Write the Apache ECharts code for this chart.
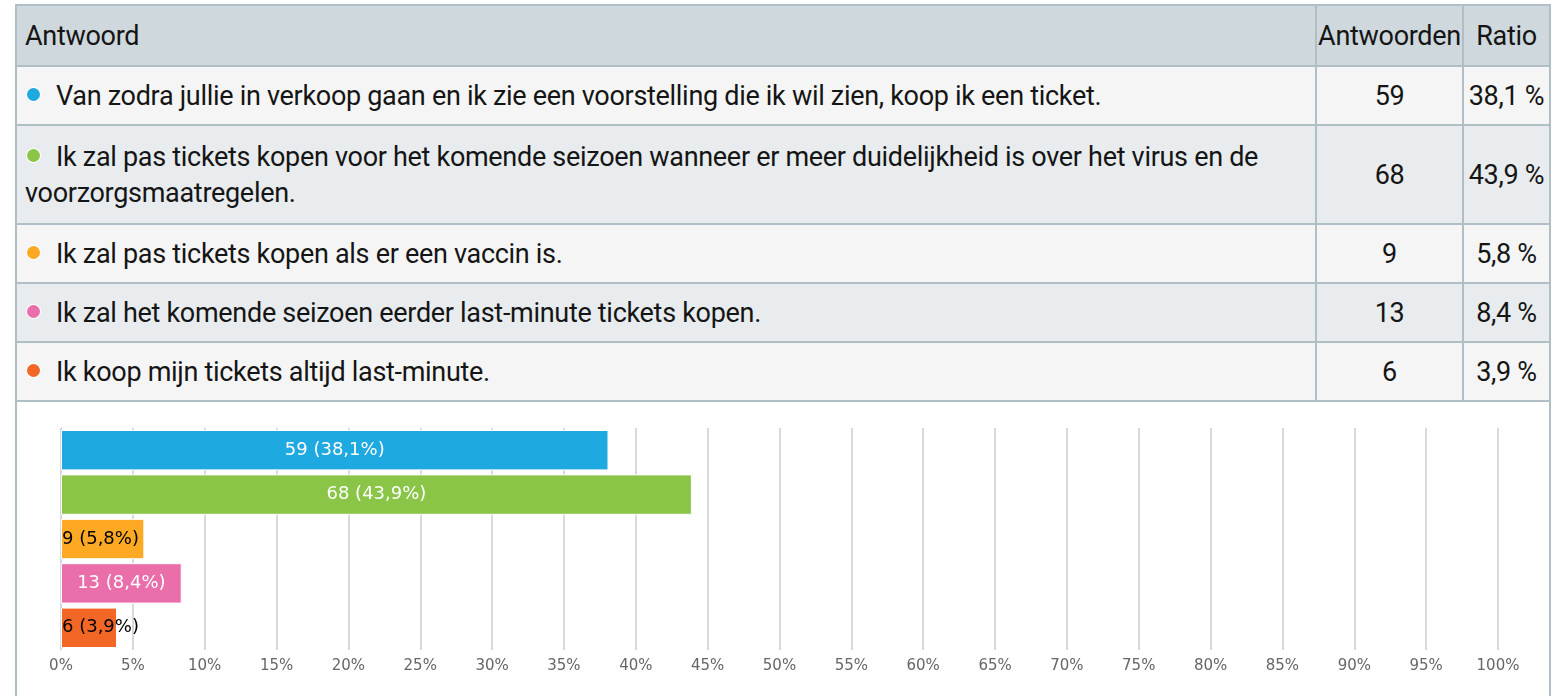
<!DOCTYPE html>
<html>
<head>
<meta charset="utf-8">
<script src="https://cdn.jsdelivr.net/npm/echarts@6/dist/echarts.min.js"></script>
<style>
  html, body { margin: 0; padding: 0; background: #fff; width: 1554px; height: 696px; overflow: hidden; }
  #frame { position: absolute; left: 15px; top: 4px; width: 1532px; height: 700px;
    border: 2px solid #b0bec5; border-bottom: none; }
  table { border-collapse: collapse; width: 1532px; table-layout: fixed;
    font-family: Roboto, "DejaVu Sans", sans-serif; letter-spacing: -0.3px;
    font-size: 27px; color: #151515; }
  td, th { border: 2px solid #b0bec5; padding: 0 8px; font-weight: normal; line-height: 36px; }
  tr:first-child th { border-top: none; }
  td:first-child, th:first-child { border-left: none; }
  td:last-child, th:last-child { border-right: none; }
  th { background: #cfd8dc; text-align: left; height: 59px; }
  th.c, td.c { text-align: center; padding: 0; }
  tr.odd td { background: #f5f5f5; }
  tr.even td { background: #e8ecee; }
  td { height: 57px; }
  tr.tall td { height: 97px; }
  .dot { display: inline-block; width: 13px; height: 13px; border-radius: 50%; margin: 0 16px 0 2px;
    vertical-align: 4px; box-shadow: 0 0 0 1px #fff; }
  #chart { position: absolute; left: 17px; top: 404px; width: 1532px; height: 292px; }
</style>
</head>
<body>
<div id="frame">
  <table id="tbl">
    <colgroup><col style="width:1299px"><col style="width:147px"><col style="width:86px"></colgroup>
    <thead><tr><th>Antwoord</th><th class="c">Antwoorden</th><th class="c">Ratio</th></tr></thead>
    <tbody id="tb"></tbody>
  </table>
</div>
<div id="chart"></div>
<script>
const categories = [
  "Van zodra jullie in verkoop gaan en ik zie een voorstelling die ik wil zien, koop ik een ticket.",
  "Ik zal pas tickets kopen voor het komende seizoen wanneer er meer duidelijkheid is over het virus en de voorzorgsmaatregelen.",
  "Ik zal pas tickets kopen als er een vaccin is.",
  "Ik zal het komende seizoen eerder last-minute tickets kopen.",
  "Ik koop mijn tickets altijd last-minute."
];
const counts = [59, 68, 9, 13, 6];
const ratios = [38.1, 43.9, 5.8, 8.4, 3.9];
const xTicks = [0, 5, 10, 15, 20, 25, 30, 35, 40, 45, 50, 55, 60, 65, 70, 75, 80, 85, 90, 95, 100];

const colors = ["#1fa9e1", "#8bc548", "#fda924", "#e96eaa", "#f26725"];
const darkLabel = [false, false, true, false, true];

const fmt = v => v.toFixed(1).replace('.', ',');

// table
const tb = document.getElementById('tb');
categories.forEach((c, i) => {
  const tr = document.createElement('tr');
  tr.className = (i % 2 === 0 ? 'odd' : 'even') + (i === 1 ? ' tall' : '');
  const td1 = document.createElement('td');
  const dot = document.createElement('span');
  dot.className = 'dot';
  dot.style.background = colors[i];
  td1.appendChild(dot);
  td1.appendChild(document.createTextNode(c));
  if (i === 1) td1.style.paddingRight = '40px';
  const td2 = document.createElement('td'); td2.className = 'c'; td2.textContent = counts[i];
  const td3 = document.createElement('td'); td3.className = 'c'; td3.textContent = fmt(ratios[i]) + ' %';
  tr.appendChild(td1); tr.appendChild(td2); tr.appendChild(td3);
  tb.appendChild(tr);
});

// chart
const chart = echarts.init(document.getElementById('chart'), null, { renderer: 'canvas' });
chart.setOption({
  animation: false,
  grid: { left: 44, right: 51, top: 24, bottom: 46, containLabel: false },
  xAxis: {
    type: 'value', min: xTicks[0], max: xTicks[xTicks.length - 1], interval: xTicks[1] - xTicks[0],
    axisLine: { show: false }, axisTick: { show: false },
    axisLabel: { formatter: '{value}%', color: '#666666', fontSize: 15, fontFamily: 'DejaVu Sans', margin: 9 },
    splitLine: { show: true, lineStyle: { color: '#cccccc', width: 1.5 } }
  },
  yAxis: {
    type: 'category', inverse: true, data: categories.map((c, i) => i),
    axisLabel: { show: false }, axisTick: { show: false },
    axisLine: { show: true, lineStyle: { color: '#ccd6eb', width: 1 } }
  },
  series: [{
    type: 'bar',
    barCategoryGap: '9%',
    data: counts.map((n, i) => ({
      value: ratios[i],
      itemStyle: { color: colors[i], borderColor: '#ffffff', borderWidth: 1 },
      label: {
        show: true,
        position: darkLabel[i] ? 'insideLeft' : 'inside',
        distance: 1,
        color: darkLabel[i] ? '#000000' : '#ffffff',
        fontSize: 18, fontFamily: 'DejaVu Sans',
        formatter: () => n + ' (' + fmt(ratios[i]) + '%)'
      }
    }))
  }]
});
</script>
</body>
</html>
